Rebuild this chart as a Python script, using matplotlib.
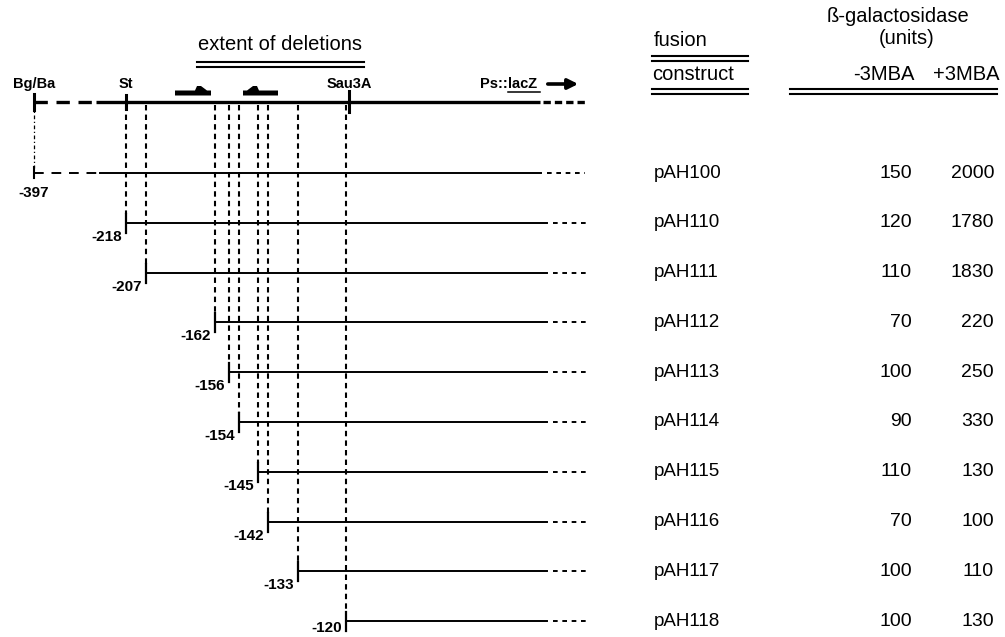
import matplotlib
matplotlib.use('Agg')

import matplotlib.pyplot as plt
from matplotlib.patches import Polygon

# -----------------------------
# DATA
# -----------------------------
constructs = ['pAH100', 'pAH110', 'pAH111', 'pAH112', 'pAH113',
              'pAH114', 'pAH115', 'pAH116', 'pAH117', 'pAH118']
endpoints = [-397, -218, -207, -162, -156, -154, -145, -142, -133, -120]
minus_3mba = [150, 120, 110, 70, 100, 90, 110, 70, 100, 100]
plus_3mba = [2000, 1780, 1830, 220, 250, 330, 130, 100, 110, 130]

# schematic position of each deletion endpoint along the drawn map
map_x = [34, 126, 146, 215, 229, 239, 258, 268, 298, 346]

sites = ['Bg/Ba', 'St', 'Sau3A']
site_x = [34, 126, 349]

# -----------------------------
# LAYOUT
# -----------------------------
plt.rcParams['font.family'] = ['Liberation Sans', 'DejaVu Sans']

fig = plt.figure(figsize=(10.05, 6.37), dpi=100)
ax = fig.add_axes([0, 0, 1, 1])
ax.set_xlim(0, 1005)
ax.set_ylim(637, 0)
ax.axis('off')

MAP_Y = 102
ROW0 = 173
ROW_STEP = 49.8
SOLID_END = 547
DASH_END = 589
row_y = [ROW0 + i * ROW_STEP for i in range(len(constructs))]

# -----------------------------
# PHYSICAL MAP
# -----------------------------
ax.plot([34, 96], [MAP_Y, MAP_Y], color='k', lw=2.4, ls=(0, (4, 2.6)))
ax.plot([96, 540], [MAP_Y, MAP_Y], color='k', lw=2.4, solid_capstyle='butt')
ax.plot([543, 585], [MAP_Y, MAP_Y], color='k', lw=2.4, ls=(0, (2.2, 1.2)))

tick_span = [(94, 110), (95, 109), (91, 112)]
for name, sx, (y0, y1) in zip(sites, site_x, tick_span):
    ax.plot([sx, sx], [y0, y1], color='k', lw=2.2)
    ax.text(sx, 84, name, ha='center', va='center', fontsize=10.5,
            fontweight='bold')

# promoter half-arrows
left_arrow = [(175, 95.5), (211, 95.5), (211, 90.5), (207, 90.5), (201, 86),
              (197, 86), (195, 90.5), (175, 90.5)]
right_arrow = [(243, 95.5), (278, 95.5), (278, 90.5), (259, 90.5), (257, 86),
               (253, 86), (247, 90.5), (243, 90.5)]
for pts in (left_arrow, right_arrow):
    ax.add_patch(Polygon(pts, closed=True, color='k', lw=0))

# Ps::lacZ with arrow
ax.text(508, 84, 'Ps::', ha='right', va='center', fontsize=10.5,
        fontweight='bold')
ax.text(508, 84, 'lacZ', ha='left', va='center', fontsize=10.5,
        fontweight='bold')
ax.plot([508, 540], [92, 92], color='k', lw=1.1)
ax.annotate('', xy=(581, 84), xytext=(545, 84),
            arrowprops=dict(arrowstyle='-|>', lw=2.6, color='k',
                            mutation_scale=15))

# -----------------------------
# DELETION ROWS
# -----------------------------
for i, (x, y, ep) in enumerate(zip(map_x, row_y, endpoints)):
    if i == 0:
        ax.plot([x, x], [MAP_Y + 3, y - 5], color='k', lw=0.9,
                ls=(0, (3, 2, 1, 2)))
        ax.plot([x, x], [y - 6, y + 5], color='k', lw=1.5)
        ax.plot([x, 100], [y, y], color='k', lw=1.4, ls=(0, (5, 4)))
        ax.plot([100, SOLID_END - 6], [y, y], color='k', lw=1.4)
        ax.plot([SOLID_END, DASH_END - 4], [y, y], color='k', lw=1.4,
                ls=(0, (2.4, 2.4)))
        ax.text(x, y + 20, str(ep), ha='center', va='center',
                fontsize=11, fontweight='bold')
    else:
        ax.plot([x, x], [MAP_Y + 3, y - 9], color='k', lw=1.5,
                ls=(0, (2.6, 2.0)))
        ax.plot([x, x], [y - 9, y + 10], color='k', lw=1.6)
        ax.plot([x, SOLID_END], [y, y], color='k', lw=1.4)
        ax.plot([SOLID_END + 6, DASH_END], [y, y], color='k', lw=1.4,
                ls=(0, (2.4, 2.4)))
        ax.text(x - 4, min(y + 14, 628), str(ep), ha='right', va='center',
                fontsize=11, fontweight='bold')

# -----------------------------
# TABLE
# -----------------------------
for y, name, lo, hi in zip(row_y, constructs, minus_3mba, plus_3mba):
    ax.text(654, y, name, ha='left', va='center', fontsize=13.5)
    ax.text(912, y, str(lo), ha='right', va='center', fontsize=14)
    ax.text(994, y, str(hi), ha='right', va='center', fontsize=14)

# -----------------------------
# HEADERS
# -----------------------------
ax.text(280, 45, 'extent of deletions', ha='center', va='center',
        fontsize=14.5)
for yy in (62, 66.5):
    ax.plot([197, 364], [yy, yy], color='k', lw=1.5)

ax.text(654, 41, 'fusion', ha='left', va='center', fontsize=14.5)
ax.text(652, 75, 'construct', ha='left', va='center', fontsize=14.5)
for yy in (56, 61, 89, 93.5):
    ax.plot([652, 748], [yy, yy], color='k', lw=1.5)

ax.text(898, 16, '\u00df-galactosidase', ha='center', va='center',
        fontsize=14.5)
ax.text(907, 38, '(units)', ha='center', va='center', fontsize=14.5)
ax.text(914, 75, '-3MBA', ha='right', va='center', fontsize=14.5)
ax.text(999, 75, '+3MBA', ha='right', va='center', fontsize=14.5)
for yy in (89, 93.5):
    ax.plot([790, 997], [yy, yy], color='k', lw=1.5)

fig.savefig('out.png', dpi=100, facecolor='white')
plt.close(fig)
